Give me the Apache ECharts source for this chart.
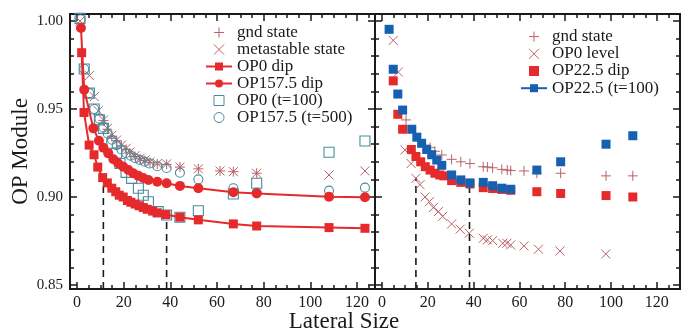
<!DOCTYPE html>
<html>
<head>
<meta charset="utf-8">
<script src="https://cdn.jsdelivr.net/npm/echarts@6.0.0/dist/echarts.min.js"></script>
<style>
html, body { margin: 0; padding: 0; background: #fff; }
#main { width: 688px; height: 335px; }
</style>
</head>
<body>
<div id="main"></div>
<script>
// ---- left panel data ----
var dipX = [2, 3, 5.2, 7.3, 8.9, 11, 13, 14.9, 16.6, 18.1, 19.8, 21.6, 23.1, 24.9, 26.6, 28.4, 30.1, 32.4, 34.4, 38.1, 44.1, 52, 67, 77, 108, 123.4];
var op0Dip = [0.982, 0.948, 0.9295, 0.924, 0.917, 0.911, 0.908, 0.905, 0.903, 0.901, 0.900, 0.898, 0.897, 0.896, 0.895, 0.894, 0.893, 0.892, 0.891, 0.890, 0.8885, 0.887, 0.8847, 0.8835, 0.8826, 0.8822];

var op157X = [1.7, 3.1, 7, 9.4, 11.3, 13.4, 15.6, 17.7, 19.8, 22, 24.1, 26.3, 28.4, 30.6, 34.4, 38.4, 44.1, 52, 67, 77, 108, 123.4];
var op157Dip = [0.996, 0.961, 0.939, 0.932, 0.928, 0.9248, 0.9214, 0.919, 0.9172, 0.9153, 0.9135, 0.912, 0.9108, 0.9097, 0.9087, 0.9078, 0.9063, 0.905, 0.9027, 0.902, 0.9002, 0.8998];

var t100X = [1.3, 3.1, 5.3, 7.4, 9.6, 11.3, 14.9, 17, 18.4, 21, 23.4, 26.3, 28.4, 30.6, 34.8, 38.4, 44.1, 52, 67, 77, 108, 123.4];
var op0T100 = [1.0015, 0.9727, 0.959, 0.950, 0.9438, 0.939, 0.9305, 0.925, 0.919, 0.914, 0.9106, 0.905, 0.901, 0.8973, 0.8917, 0.8898, 0.8885, 0.8922, 0.9017, 0.9078, 0.9254, 0.9318];

var t500X = [1.5, 3.1, 5.3, 7.4, 9.6, 11.3, 13.2, 15, 17, 19, 21, 23, 25, 27, 29, 31, 34.4, 38.4, 44.1, 52, 67, 77, 108, 123.4];
var op157T500 = [1.001, 0.9727, 0.959, 0.950, 0.9445, 0.9395, 0.936, 0.9325, 0.9295, 0.927, 0.925, 0.9235, 0.922, 0.921, 0.920, 0.919, 0.9175, 0.9165, 0.9138, 0.910, 0.905, 0.9025, 0.9036, 0.9053];

var metaX = [1.3, 5.3, 7.4, 9.1, 11.3, 13, 14.9, 17, 19.1, 21.1, 22.7, 24.9, 27, 29.1, 31.3, 34.4, 38.4, 44.1, 52, 61.3, 67, 77, 108, 123.4];
var metaState = [1.0, 0.969, 0.957, 0.949, 0.9438, 0.939, 0.935, 0.9324, 0.9295, 0.9277, 0.9255, 0.9235, 0.922, 0.921, 0.920, 0.919, 0.9188, 0.917, 0.916, 0.9148, 0.9144, 0.9135, 0.9125, 0.9148];

var gndLX = [11.3, 13, 14.9, 17, 19.1, 21.1, 22.7, 24.9, 27, 29.1, 31.3, 34.4, 38.4, 44.1, 52, 61.3, 67, 77];
var gndL = [0.9435, 0.9385, 0.9345, 0.932, 0.929, 0.927, 0.925, 0.923, 0.9217, 0.9207, 0.9197, 0.9187, 0.9185, 0.917, 0.916, 0.9148, 0.9144, 0.9135];

var dashLX = [11.3, 38.4];
var dashLTop = [0.908, 0.8897];

// ---- right panel data ----
var gndRX = [10.5, 18.8, 21, 23.1, 26.1, 30.4, 34.4, 38.4, 44.2, 46, 48.3, 52.3, 54.7, 56.2, 62, 67.6, 78, 97.8, 109.5];
var gndR = [0.9438, 0.9295, 0.928, 0.926, 0.9239, 0.9214, 0.920, 0.919, 0.9172, 0.917, 0.9166, 0.9157, 0.9153, 0.915, 0.9148, 0.9135, 0.9135, 0.912, 0.912];

var levelX = [4.9, 7.1, 10, 12.7, 14.8, 16.6, 18.8, 20.7, 22.4, 24.6, 26.5, 30.4, 34.1, 38.1, 44.2, 46, 48.3, 52.7, 54.5, 56.2, 62, 68.3, 77.7, 97.7];
var op0Level = [0.989, 0.971, 0.9267, 0.919, 0.9106, 0.907, 0.900, 0.8973, 0.894, 0.8917, 0.889, 0.8847, 0.8817, 0.8794, 0.8765, 0.8756, 0.8752, 0.8737, 0.8737, 0.8727, 0.8722, 0.8703, 0.8693, 0.8676];

var dip22X = [4.9, 6.9, 9.0, 12.8, 14.8, 16.9, 18.9, 21, 23.1, 25.2, 27, 30.4, 34.4, 38.4, 44.2, 48.3, 52.3, 56.2, 67.6, 78, 97.8, 109.5];
var op22Dip = [0.966, 0.947, 0.9385, 0.927, 0.923, 0.920, 0.9172, 0.9153, 0.9135, 0.9125, 0.912, 0.9093, 0.9083, 0.9074, 0.9053, 0.9048, 0.9043, 0.9038, 0.903, 0.902, 0.9008, 0.900];

var t22X = [3.1, 4.9, 6.9, 9.0, 13, 15.2, 17.3, 19.5, 21.7, 23.9, 26.1, 30.4, 34.4, 38.4, 44.2, 48.3, 52.3, 56.2, 67.6, 78, 97.8, 109.5];
var op22T100 = [0.9953, 0.9726, 0.9585, 0.9494, 0.9385, 0.934, 0.9305, 0.927, 0.924, 0.921, 0.918, 0.9125, 0.9097, 0.908, 0.9083, 0.9064, 0.905, 0.9044, 0.9153, 0.920, 0.930, 0.9348];

var dashRX = [14.8, 38.2];
var dashRTop = [0.911, 0.9057];

// ---- ticks ----
var xTicks = [0, 20, 40, 60, 80, 100, 120];
var xMinor = [5, 10, 15, 25, 30, 35, 45, 50, 55, 65, 70, 75, 85, 90, 95, 105, 110, 115, 125];
var yTicks = [0.85, 0.90, 0.95, 1.00];
var yMinor = [0.86, 0.87, 0.88, 0.89, 0.91, 0.92, 0.93, 0.94, 0.96, 0.97, 0.98, 0.99];

var yMin = 0.8477, yMax = 1.004;
var xRange = [[-3, 127.7], [-3.06, 130.1]];

var FONT = 'Liberation Serif';
var INK = '#1a1a1a';
var RED = '#e62a2c';
var TEAL = '#4a8c9c';
var BROWN = '#bb6068';
var BLUE = '#1660b0';
var PLUS = 'path://M0,5L10,5M5,0L5,10';
var CROSS = 'path://M0,0L10,10M10,0L0,10';
var SQUARE = 'path://M0,0L10,0L10,10L0,10Z';

function pairs(xs, ys) {
	var out = [];
	for (var i = 0; i < xs.length; i++) {
		out.push([xs[i], ys[i]]);
	}
	return out;
}

function axis(grid, pos, min, max, values, len, labels, isY) {
	return {
		type : 'value',
		gridIndex : grid,
		position : pos,
		min : min,
		max : max,
		splitLine : { show : false },
		axisLine : { show : true, onZero : false, lineStyle : { color : INK, width : 2 } },
		axisTick : { show : true, inside : true, length : len, customValues : values,
			lineStyle : { color : INK, width : 1.5 } },
		axisLabel : { show : labels, customValues : values, margin : isY ? 7 : 6,
			fontFamily : FONT, fontSize : isY ? 15 : 16, color : INK,
			formatter : function(v) { return isY ? v.toFixed(2) : String(v); } }
	};
}

var xAxes = [], yAxes = [];
for (var g = 0; g < 2; g++) {
	var r = xRange[g];
	xAxes.push(axis(g, 'bottom', r[0], r[1], xTicks, 7, true, false));
	xAxes.push(axis(g, 'bottom', r[0], r[1], xMinor, 4, false, false));
	xAxes.push(axis(g, 'top', r[0], r[1], xTicks, 7, false, false));
	xAxes.push(axis(g, 'top', r[0], r[1], xMinor, 4, false, false));
	yAxes.push(axis(g, 'left', yMin, yMax, yTicks, 7, g == 0, true));
	yAxes.push(axis(g, 'left', yMin, yMax, yMinor, 4, false, true));
	yAxes.push(axis(g, 'right', yMin, yMax, yTicks, 7, false, true));
	yAxes.push(axis(g, 'right', yMin, yMax, yMinor, 4, false, true));
}
yAxes[0].name = 'OP Module';
yAxes[0].nameLocation = 'middle';
yAxes[0].nameGap = 35;
yAxes[0].nameTextStyle = { fontFamily : FONT, fontSize : 23, color : INK };

function dashes(g, xs, tops) {
	var list = [];
	for (var i = 0; i < xs.length; i++) {
		list.push({
			type : 'line', xAxisIndex : g * 4, yAxisIndex : g * 4,
			data : [[xs[i], yMin], [xs[i], tops[i]]],
			symbol : 'none', silent : true, z : 1,
			lineStyle : { color : INK, width : 1.6, type : [7, 5] }
		});
	}
	return list;
}

function marks(g, name, type, xs, ys, symbol, size, style) {
	style.opacity = 1;
	return {
		name : name, type : type, xAxisIndex : g * 4, yAxisIndex : g * 4,
		data : pairs(xs, ys), symbol : symbol, symbolSize : size,
		itemStyle : style
	};
}

function hollowTeal() { return { color : 'transparent', borderColor : TEAL, borderWidth : 1.1 }; }
function strokeBrown() { return { color : 'transparent', borderColor : BROWN, borderWidth : 1 }; }

var series = [].concat(dashes(0, dashLX, dashLTop), dashes(1, dashRX, dashRTop));

// left panel
series.push({
	name : 'OP0 dip', type : 'line', xAxisIndex : 0, yAxisIndex : 0,
	data : pairs(dipX, op0Dip), symbol : 'rect', symbolSize : 9, showAllSymbol : true,
	itemStyle : { color : RED }, lineStyle : { color : RED, width : 2 }
});
series.push({
	name : 'OP157.5 dip', type : 'line', xAxisIndex : 0, yAxisIndex : 0,
	data : pairs(op157X, op157Dip), symbol : 'circle', symbolSize : 10, showAllSymbol : true,
	itemStyle : { color : RED }, lineStyle : { color : RED, width : 2 }
});
series.push(marks(0, 'gnd state', 'scatter', gndLX, gndL, PLUS, 10, strokeBrown()));
series.push(marks(0, 'metastable state', 'scatter', metaX, metaState, CROSS, 9, strokeBrown()));
series.push(marks(0, 'OP0 (t=100)', 'scatter', t100X, op0T100, 'rect', 10, hollowTeal()));
series.push(marks(0, 'OP157.5 (t=500)', 'scatter', t500X, op157T500, 'circle', 9, hollowTeal()));

// right panel
series.push(marks(1, 'gnd state', 'scatter', gndRX, gndR, PLUS, 10, strokeBrown()));
series.push(marks(1, 'OP0 level', 'scatter', levelX, op0Level, CROSS, 9, strokeBrown()));
series.push(marks(1, 'OP22.5 dip', 'scatter', dip22X, op22Dip, 'rect', 9, { color : RED }));
series.push({
	name : 'OP22.5 (t=100)', type : 'line', xAxisIndex : 4, yAxisIndex : 4,
	data : pairs(t22X, op22T100), symbol : 'rect', symbolSize : 9, showAllSymbol : true,
	itemStyle : { color : BLUE }, lineStyle : { color : BLUE, width : 0 }
});

var thin = { borderWidth : 1, opacity : 1 };

var chart = echarts.init(document.getElementById('main'));
chart.setOption({
	animation : false,
	backgroundColor : '#fff',
	grid : [
		{ left : 70, top : 14, width : 305, height : 275 },
		{ left : 375, top : 14, width : 305, height : 275 }
	],
	xAxis : xAxes,
	yAxis : yAxes,
	legend : [ {
		data : [
			{ name : 'gnd state', itemStyle : thin },
			{ name : 'metastable state', itemStyle : thin },
			'OP0 dip', 'OP157.5 dip',
			{ name : 'OP0 (t=100)', icon : SQUARE, itemStyle : thin },
			{ name : 'OP157.5 (t=500)', itemStyle : thin } ],
		orient : 'vertical', left : 205, top : 24, padding : 0,
		itemWidth : 26, itemHeight : 10, itemGap : 0, symbolKeepAspect : true,
		textStyle : { fontFamily : FONT, fontSize : 17, color : INK, lineHeight : 16.5 },
		selectedMode : false
	}, {
		data : [
			{ name : 'gnd state', itemStyle : thin },
			{ name : 'OP0 level', itemStyle : thin },
			{ name : 'OP22.5 dip', icon : SQUARE, itemStyle : { opacity : 1 } },
			{ name : 'OP22.5 (t=100)', lineStyle : { width : 2, color : BLUE } } ],
		orient : 'vertical', left : 520, top : 28, padding : 0,
		itemWidth : 26, itemHeight : 10, itemGap : 0, symbolKeepAspect : true,
		textStyle : { fontFamily : FONT, fontSize : 17, color : INK, lineHeight : 17.2 },
		selectedMode : false
	} ],
	graphic : [ {
		type : 'text', left : 'center', top : 310,
		style : { text : 'Lateral Size', font : '23px "Liberation Serif"', fill : INK }
	} ],
	series : series
});
</script>
</body>
</html>
